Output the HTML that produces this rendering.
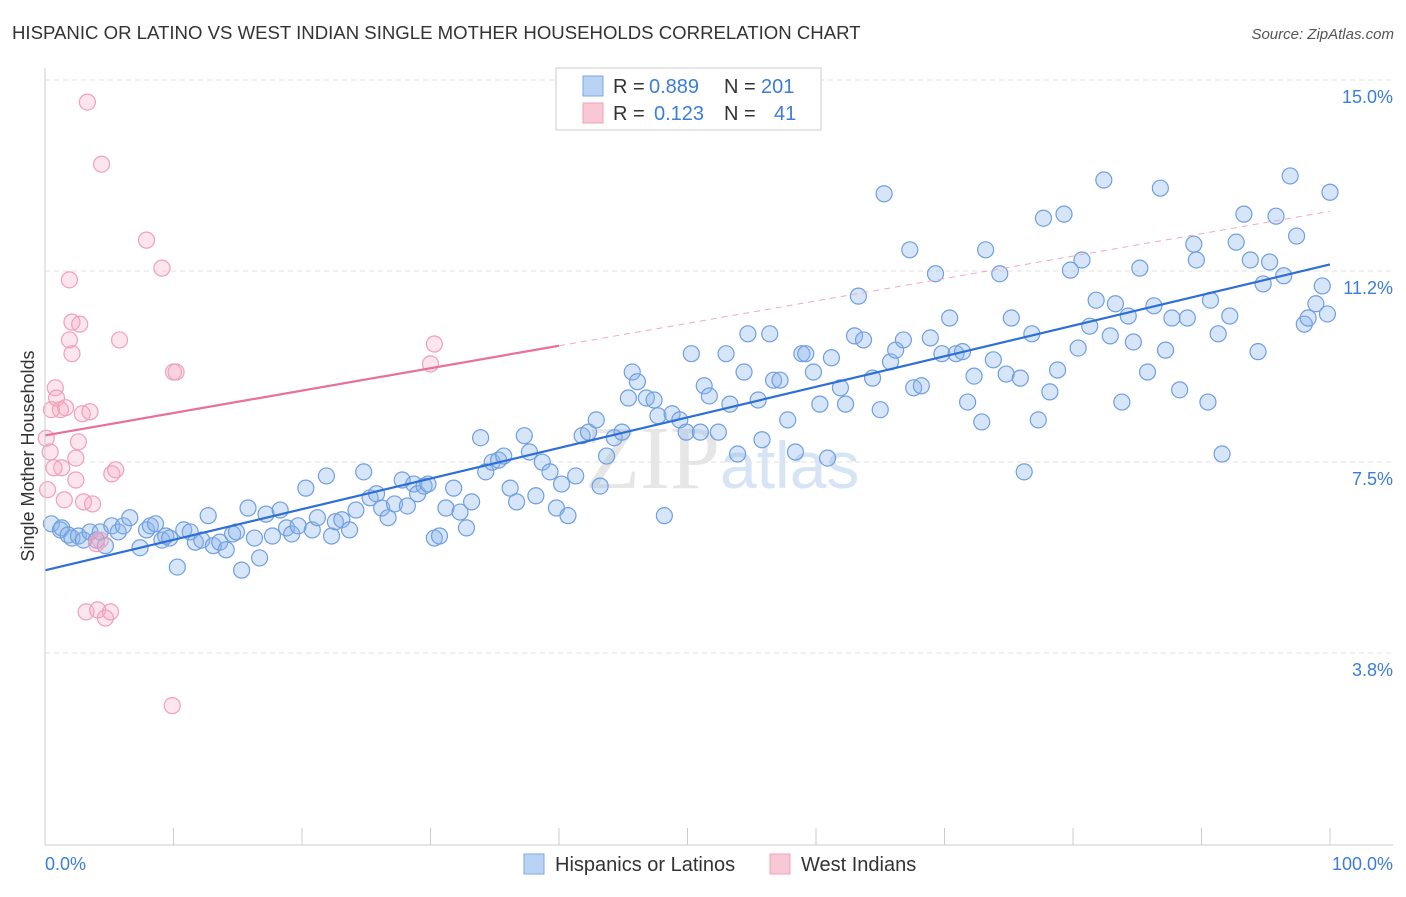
<!DOCTYPE html>
<html><head><meta charset="utf-8"><style>
body{margin:0;background:#fff;font-family:"Liberation Sans",sans-serif}
#c{position:relative;width:1406px;height:892px}
</style></head><body>
<div id="c">
<svg id="s" width="1406" height="892">
<text x="12" y="39" font-size="18.6" fill="#333">HISPANIC OR LATINO VS WEST INDIAN SINGLE MOTHER HOUSEHOLDS CORRELATION CHART</text>
<text x="1394" y="39" font-size="15" fill="#555" text-anchor="end" font-style="italic">Source: ZipAtlas.com</text>
<text x="720" y="488" font-size="90" fill="#e6e6e6" text-anchor="end" font-family="Liberation Serif">ZIP</text>
<text x="720" y="488" font-size="66" fill="#d6e4f5">atlas</text>
<text transform="translate(34,456) rotate(-90)" font-size="18" fill="#333" text-anchor="middle">Single Mother Households</text>
<g id="grid"></g><g id="pts"></g><g id="lines"></g>
<line x1="45" y1="68" x2="45" y2="845" stroke="#ccc"/>
<line x1="45" y1="845" x2="1393" y2="845" stroke="#ccc"/>
<text x="45" y="870" font-size="18" fill="#3b7dd8">0.0%</text>
<text x="1393" y="870" font-size="18" fill="#3b7dd8" text-anchor="end">100.0%</text>
<g>
<rect x="556" y="68" width="265" height="62" fill="#fff" stroke="#ccc"/>
<rect x="583" y="76" width="20" height="20" fill="#b9d3f5" stroke="#7aa7e6"/>
<rect x="583" y="103" width="20" height="20" fill="#f9c8d7" stroke="#f0a0b8"/>
<text x="613" y="93" font-size="20" fill="#333">R =</text>
<text x="649" y="93" font-size="20" fill="#3b7dd8">0.889</text>
<text x="724" y="93" font-size="20" fill="#333">N =</text>
<text x="761" y="93" font-size="20" fill="#3b7dd8">201</text>
<text x="613" y="120" font-size="20" fill="#333">R =</text>
<text x="654" y="120" font-size="20" fill="#3b7dd8">0.123</text>
<text x="724" y="120" font-size="20" fill="#333">N =</text>
<text x="774" y="120" font-size="20" fill="#3b7dd8">41</text>
</g>
<g>
<rect x="524" y="854" width="20" height="20" fill="#b9d3f5" stroke="#7aa7e6"/>
<text x="555" y="871" font-size="20" fill="#333">Hispanics or Latinos</text>
<rect x="770" y="854" width="20" height="20" fill="#f9c8d7" stroke="#f0a0b8"/>
<text x="801" y="871" font-size="20" fill="#333">West Indians</text>
</g>
</svg></div>
<script>
const yTicks=[15,11.25,7.5,3.75];
const yTickLabels=["15.0%","11.2%","7.5%","3.8%"];
const xTicks=[0,10,20,30,40,50,60,70,80,90,100];
const blueX=[0.5,1.2,1.3,1.8,2.1,2.6,3.0,3.5,4.0,4.3,4.7,5.2,5.7,6.1,6.6,7.4,7.9,8.2,8.6,9.1,9.4,9.7,10.3,10.8,11.3,11.7,12.2,12.7,13.1,13.6,14.1,14.6,14.9,15.3,15.8,16.3,16.7,17.2,17.7,18.3,18.8,19.2,19.7,20.3,20.8,21.2,21.9,22.3,22.6,23.1,23.7,24.2,24.8,25.3,25.8,26.2,26.7,27.2,27.8,28.2,28.7,29.0,29.5,29.8,30.3,30.7,31.2,31.8,32.3,32.8,33.2,33.9,34.3,34.8,35.3,35.7,36.2,36.7,37.3,37.7,38.2,38.7,39.3,39.8,40.2,40.7,41.3,41.8,42.3,42.9,43.2,43.7,44.3,44.9,45.4,45.7,46.1,46.8,47.4,47.7,48.2,48.8,49.4,49.9,50.3,51.0,51.3,51.7,52.4,53.0,53.3,53.9,54.4,54.7,55.5,55.8,56.4,56.7,57.2,57.8,58.4,58.9,59.2,59.8,60.3,60.9,61.2,61.9,62.3,63.0,63.3,63.7,64.4,65.0,65.3,65.8,66.2,66.8,67.3,67.6,68.2,68.9,69.3,69.8,70.4,70.9,71.4,71.8,72.3,72.9,73.2,73.8,74.3,74.8,75.2,75.9,76.2,76.8,77.3,77.7,78.2,78.8,79.3,79.8,80.4,80.7,81.3,81.8,82.4,82.9,83.3,83.8,84.3,84.7,85.2,85.8,86.3,86.8,87.2,87.7,88.3,88.9,89.4,89.6,90.5,90.7,91.3,91.6,92.2,92.7,93.3,93.8,94.4,94.8,95.3,95.8,96.4,96.9,97.4,98.0,98.3,98.9,99.4,99.8,100.0];
const blueY=[6.62,6.50,6.54,6.40,6.34,6.38,6.30,6.46,6.30,6.46,6.19,6.58,6.46,6.58,6.74,6.15,6.50,6.58,6.62,6.30,6.38,6.34,5.77,6.50,6.46,6.26,6.30,6.78,6.19,6.26,6.11,6.42,6.46,5.71,6.93,6.34,5.95,6.81,6.38,6.89,6.54,6.42,6.58,7.32,6.50,6.74,7.56,6.38,6.66,6.70,6.50,6.89,7.64,7.13,7.21,6.93,6.74,7.01,7.48,6.97,7.40,7.21,7.36,7.40,6.34,6.38,6.93,7.32,6.85,6.54,7.05,8.31,7.64,7.83,7.87,7.95,7.32,7.05,8.35,8.03,7.17,7.83,7.64,6.93,7.40,6.78,7.56,8.35,8.42,8.66,7.36,7.95,8.31,8.42,9.09,9.60,9.41,9.09,9.05,8.74,6.78,8.78,8.66,8.42,9.96,8.42,9.33,9.13,8.42,9.96,8.97,7.99,9.60,10.35,9.05,8.27,10.35,9.44,9.44,8.66,8.03,9.96,9.96,9.60,8.97,7.91,9.88,9.29,8.97,10.31,11.09,10.23,9.48,8.86,13.10,9.80,10.03,10.23,12.00,9.29,9.33,10.27,11.53,9.96,10.66,9.96,10.00,9.01,9.52,8.62,12.00,9.84,11.53,9.56,10.66,9.48,7.64,10.35,8.66,12.62,9.21,9.64,12.70,11.60,10.07,11.80,10.50,11.01,13.37,10.31,10.94,9.01,10.70,10.19,11.64,9.60,10.90,13.21,10.03,10.66,9.25,10.66,12.11,11.80,9.01,11.01,10.35,7.99,10.70,12.15,12.70,11.80,10.00,11.33,11.76,12.66,11.49,13.45,12.27,10.54,10.66,10.94,11.29,10.74,13.13];
const pinkX=[0.2,0.5,0.8,0.9,1.2,1.3,1.5,1.6,1.9,1.9,2.1,2.1,2.4,2.4,2.6,2.7,2.9,3.0,3.2,3.3,3.5,3.7,4.0,4.1,4.3,4.4,4.7,5.1,5.2,5.5,5.8,7.9,9.1,9.9,10.0,10.2,30.0,30.3,0.7,0.4,0.1];
const pinkY=[7.29,8.86,9.29,9.09,8.86,7.72,7.09,8.90,11.41,10.23,9.96,10.58,7.48,7.91,8.23,10.54,8.78,7.05,4.89,14.90,8.82,7.01,6.23,4.93,6.30,13.68,4.77,4.89,7.60,7.68,10.23,12.19,11.64,3.05,9.60,9.60,9.76,10.15,7.72,8.03,8.3];
const NS="http://www.w3.org/2000/svg";
const X=v=>45+v*12.85, Y=v=>97+(15-v)*50.93;
const grid=document.getElementById('grid');
yTicks.forEach((t,i)=>{
 const l=document.createElementNS(NS,'line');
 l.setAttribute('x1',45);l.setAttribute('x2',1393);l.setAttribute('y1',Y(t)-17);l.setAttribute('y2',Y(t)-17);
 l.setAttribute('stroke','#e2e2e2');l.setAttribute('stroke-dasharray','5,4');
 
 
 grid.appendChild(l);
 const tx=document.createElementNS(NS,'text');
 tx.setAttribute('x',1393);tx.setAttribute('y',Y(t)+6);tx.setAttribute('text-anchor','end');
 tx.setAttribute('font-size','18');tx.setAttribute('fill','#3b7dd8');tx.textContent=yTickLabels[i];
 
 
 grid.appendChild(tx);
});
xTicks.forEach(t=>{
 const l=document.createElementNS(NS,'line');
 l.setAttribute('x1',X(t));l.setAttribute('x2',X(t));l.setAttribute('y1',828);l.setAttribute('y2',845);
 l.setAttribute('stroke','#ccc');
 
 
 grid.appendChild(l);
});
const pts=document.getElementById('pts');
function dots(xs,ys,fill,stroke,name){
 xs.forEach((x,i)=>{
  const c=document.createElementNS(NS,'circle');
  c.setAttribute('cx',X(x));c.setAttribute('cy',Y(ys[i]));c.setAttribute('r',8);
  c.setAttribute('fill',fill);c.setAttribute('stroke',stroke);c.setAttribute('stroke-width','1.2');
  
  
  pts.appendChild(c);
 });
}
dots(blueX,blueY,'rgba(140,180,235,0.35)','#6f9fe0','hispanic-point');
dots(pinkX,pinkY,'rgba(245,170,195,0.3)','#f0a0b8','west-indian-point');
function fit(xs,ys){const n=xs.length;let sx=0,sy=0,sxx=0,sxy=0;xs.forEach((x,i)=>{sx+=x;sy+=ys[i];sxx+=x*x;sxy+=x*ys[i];});const b=(n*sxy-sx*sy)/(n*sxx-sx*sx);return [b,(sy-b*sx)/n];}
const lines=document.getElementById('lines');
function ln(x1,x2,f,col,w,dash,name){
 const l=document.createElementNS(NS,'line');
 l.setAttribute('x1',X(x1));l.setAttribute('x2',X(x2));l.setAttribute('y1',Y(f[1]+f[0]*x1));l.setAttribute('y2',Y(f[1]+f[0]*x2));
 l.setAttribute('stroke',col);l.setAttribute('stroke-width',w);if(dash)l.setAttribute('stroke-dasharray',dash);
 
 
 lines.appendChild(l);
}
const fb=fit(blueX,blueY), fp=fit(pinkX,pinkY);
ln(0,100,fb,'#2d6fd6',2.2,null,'hispanic-trendline');
ln(0,40,fp,'#e8709a',2.2,null,'west-indian-trendline');
ln(40,100,fp,'#eeaabb',1,'6,5','west-indian-trendline-extension');
</script>
</body></html>
